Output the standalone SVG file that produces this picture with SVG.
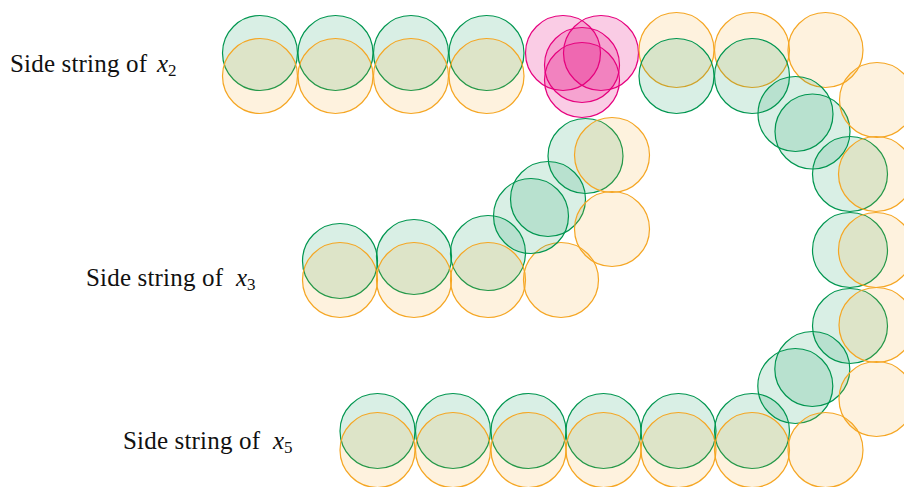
<svg xmlns="http://www.w3.org/2000/svg" width="904" height="487" viewBox="0 0 904 487">
<style>
.g{fill:rgb(0,150,80);fill-opacity:0.15;stroke:rgb(0,150,80);stroke-width:1.2}
.o{fill:rgb(245,166,35);fill-opacity:0.15;stroke:rgb(245,166,35);stroke-width:1.2}
.p{fill:rgb(230,0,126);fill-opacity:0.2;stroke:rgb(230,0,126);stroke-width:1.2}
.sub{font-size:17px}
</style>
<rect width="904" height="487" fill="#fff"/>
<g id="labels" font-family="'Liberation Serif', 'Times New Roman', serif" font-size="25" fill="#111">
<g id="label-x2"><text x="10" y="72"><tspan textLength="137" lengthAdjust="spacing">Side string of</tspan><tspan x="157" font-style="italic">x</tspan><tspan class="sub" dy="4">2</tspan></text></g>
<g id="label-x3"><text x="86" y="286"><tspan textLength="137" lengthAdjust="spacing">Side string of</tspan><tspan x="236" font-style="italic">x</tspan><tspan class="sub" dy="4">3</tspan></text></g>
<g id="label-x5"><text x="123" y="449"><tspan textLength="137" lengthAdjust="spacing">Side string of</tspan><tspan x="273" font-style="italic">x</tspan><tspan class="sub" dy="4">5</tspan></text></g>
</g>
<g id="string-x2">
<g id="n2a"><circle class="g" cx="260" cy="53" r="37.5"/><circle class="o" cx="260" cy="76" r="37.5"/></g>
<g id="n2b"><circle class="g" cx="335.5" cy="53" r="37.5"/><circle class="o" cx="335.5" cy="76" r="37.5"/></g>
<g id="n2c"><circle class="g" cx="411" cy="53" r="37.5"/><circle class="o" cx="411" cy="76" r="37.5"/></g>
<g id="n2d"><circle class="g" cx="486.5" cy="53" r="37.5"/><circle class="o" cx="486.5" cy="76" r="37.5"/></g>
</g>
<g id="junction">
<g id="p1"><circle class="p" cx="563" cy="53" r="37.5"/></g>
<g id="p2"><circle class="p" cx="601" cy="53" r="37.5"/></g>
<g id="p3"><circle class="p" cx="582" cy="65" r="37.5"/></g>
<g id="p4"><circle class="p" cx="582" cy="80" r="37.5"/></g>
</g>
<g id="loop">
<g id="r1"><circle class="o" cx="676.5" cy="50" r="37.5"/><circle class="g" cx="676.5" cy="76" r="37.5"/></g>
<g id="r2"><circle class="o" cx="752" cy="50" r="37.5"/><circle class="g" cx="752" cy="76" r="37.5"/></g>
<g id="r3"><circle class="o" cx="825.5" cy="50" r="37.5"/></g>
<g id="r4"><circle class="g" cx="795.5" cy="114" r="37.5"/><circle class="g" cx="812.5" cy="131.5" r="37.5"/></g>
<g id="r5"><circle class="o" cx="877" cy="100" r="37.5"/></g>
<g id="r6"><circle class="g" cx="850" cy="174" r="37.5"/><circle class="o" cx="876" cy="174" r="37.5"/></g>
<g id="r7"><circle class="g" cx="850" cy="250" r="37.5"/><circle class="o" cx="876" cy="250" r="37.5"/></g>
<g id="r8"><circle class="g" cx="850" cy="326" r="37.5"/><circle class="o" cx="876.5" cy="325" r="37.5"/></g>
<g id="r9"><circle class="g" cx="812.3" cy="369" r="37.5"/><circle class="g" cx="795.3" cy="386" r="37.5"/></g>
<g id="r10"><circle class="o" cx="876.5" cy="399" r="37.5"/></g>
</g>
<g id="string-x5">
<g id="n5a"><circle class="g" cx="377.5" cy="431" r="37.5"/><circle class="o" cx="377.5" cy="450" r="37.5"/></g>
<g id="n5b"><circle class="g" cx="453" cy="431" r="37.5"/><circle class="o" cx="453" cy="450" r="37.5"/></g>
<g id="n5c"><circle class="g" cx="528.5" cy="431" r="37.5"/><circle class="o" cx="528.5" cy="450" r="37.5"/></g>
<g id="n5d"><circle class="g" cx="603.5" cy="431" r="37.5"/><circle class="o" cx="603.5" cy="450" r="37.5"/></g>
<g id="n5e"><circle class="g" cx="678.5" cy="431" r="37.5"/><circle class="o" cx="678.5" cy="450" r="37.5"/></g>
<g id="n5f"><circle class="g" cx="752" cy="431" r="37.5"/><circle class="o" cx="752" cy="450" r="37.5"/></g>
<g id="n5g"><circle class="o" cx="825.5" cy="450" r="37.5"/></g>
</g>
<g id="string-x3">
<g id="n3a"><circle class="g" cx="340" cy="261" r="37.5"/><circle class="o" cx="340" cy="280" r="37.5"/></g>
<g id="n3b"><circle class="g" cx="414" cy="257" r="37.5"/><circle class="o" cx="414" cy="280" r="37.5"/></g>
<g id="n3c"><circle class="g" cx="488" cy="253" r="37.5"/><circle class="o" cx="488" cy="280" r="37.5"/></g>
<g id="n3d"><circle class="o" cx="561" cy="280" r="37.5"/></g>
<g id="n3e"><circle class="g" cx="531" cy="216" r="37.5"/><circle class="g" cx="548" cy="199" r="37.5"/></g>
<g id="n3f"><circle class="o" cx="612" cy="229" r="37.5"/></g>
<g id="n3g"><circle class="g" cx="585.5" cy="156" r="37.5"/><circle class="o" cx="612" cy="155" r="37.5"/></g>
</g>
<g id="connectors"/>
</svg>
